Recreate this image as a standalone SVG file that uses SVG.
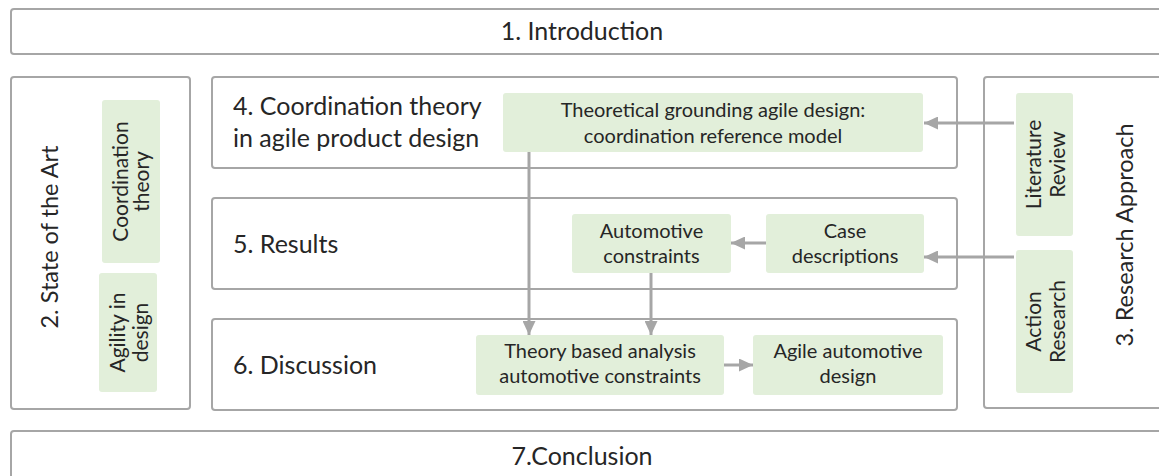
<svg xmlns="http://www.w3.org/2000/svg" width="1159" height="476" viewBox="0 0 1159 476">
  <style>
    .frame { fill: #ffffff; stroke: #a6a6a6; stroke-width: 2; }
    .item { fill: #e2efda; stroke: none; }
    .t { font-family: Lato, "Open Sans", "Liberation Sans", sans-serif; fill: #262626; }
    .big { font-size: 25px; }
    .side { font-size: 23.5px; }
    .small { font-size: 20px; }
    .vsmall { font-size: 21px; }
    .c { text-anchor: middle; }
    .link { fill: none; stroke: #a6a6a6; stroke-width: 3; }
  </style>
  <defs>
    <marker id="head" viewBox="0 0 14 13" refX="14" refY="6.5" markerWidth="14" markerHeight="13" markerUnits="userSpaceOnUse" orient="auto">
      <path d="M0,0 L14,6.5 L0,13 Z" fill="#a6a6a6"/>
    </marker>
  </defs>

  <rect width="1159" height="476" fill="#ffffff"/>

  <!-- chapter 1 -->
  <g id="introduction">
    <rect class="frame" x="11" y="9" width="1170" height="45" rx="3"/>
    <text class="t big c" x="582" y="40">1. Introduction</text>
  </g>

  <!-- chapter 2 -->
  <g id="state-of-the-art">
    <rect class="frame" x="11" y="77" width="179" height="332" rx="3"/>
    <text class="t side c" transform="translate(58,237) rotate(-90)">2. State of the Art</text>
  </g>
  <g id="coordination-theory">
    <rect class="item" x="102" y="100" width="58" height="163" rx="3"/>
    <text class="t vsmall c" transform="translate(0,181.5) rotate(-90)"><tspan x="0" y="128">Coordination</tspan><tspan x="0" y="149">theory</tspan></text>
  </g>
  <g id="agility-in-design">
    <rect class="item" x="99" y="273" width="58" height="119" rx="3"/>
    <text class="t vsmall c" transform="translate(0,332.5) rotate(-90)"><tspan x="0" y="125">Agility in</tspan><tspan x="0" y="148">design</tspan></text>
  </g>

  <!-- chapter 4 -->
  <g id="coordination-in-agile-design">
    <rect class="frame" x="212" y="77" width="745" height="91" rx="3"/>
    <text class="t big" x="233" y="115">4. Coordination theory</text>
    <text class="t big" x="233" y="147">in agile product design</text>
  </g>
  <g id="theoretical-grounding">
    <rect class="item" x="503" y="93" width="420" height="59" rx="3"/>
    <text class="t small c" x="713" y="117">Theoretical grounding agile design:</text>
    <text class="t small c" x="713" y="143">coordination reference model</text>
  </g>

  <!-- chapter 5 -->
  <g id="results">
    <rect class="frame" x="212" y="198" width="745" height="91" rx="3"/>
    <text class="t big" x="233" y="253">5. Results</text>
  </g>
  <g id="automotive-constraints">
    <rect class="item" x="572" y="214" width="159" height="59" rx="3"/>
    <text class="t small c" x="651.5" y="238">Automotive</text>
    <text class="t small c" x="651.5" y="263">constraints</text>
  </g>
  <g id="case-descriptions">
    <rect class="item" x="766" y="214" width="158" height="59" rx="3"/>
    <text class="t small c" x="845" y="238">Case</text>
    <text class="t small c" x="845" y="263">descriptions</text>
  </g>

  <!-- chapter 6 -->
  <g id="discussion">
    <rect class="frame" x="212" y="319" width="745" height="91" rx="3"/>
    <text class="t big" x="233" y="374">6. Discussion</text>
  </g>
  <g id="theory-based-analysis">
    <rect class="item" x="476" y="335" width="248" height="60" rx="3"/>
    <text class="t small c" x="600" y="358">Theory based analysis</text>
    <text class="t small c" x="600" y="383">automotive constraints</text>
  </g>
  <g id="agile-automotive-design">
    <rect class="item" x="753" y="335" width="190" height="60" rx="3"/>
    <text class="t small c" x="848" y="358">Agile automotive</text>
    <text class="t small c" x="848" y="383">design</text>
  </g>

  <!-- chapter 3 -->
  <g id="research-approach">
    <rect class="frame" x="984" y="77" width="200" height="331" rx="3"/>
    <text class="t side c" transform="translate(1133,235) rotate(-90)">3. Research Approach</text>
  </g>
  <g id="literature-review">
    <rect class="item" x="1016" y="93" width="57" height="143" rx="3"/>
    <text class="t vsmall c" transform="translate(0,164.5) rotate(-90)"><tspan x="0" y="1041">Literature</tspan><tspan x="0" y="1065">Review</tspan></text>
  </g>
  <g id="action-research">
    <rect class="item" x="1016" y="250" width="57" height="143" rx="3"/>
    <text class="t vsmall c" transform="translate(0,321.5) rotate(-90)"><tspan x="0" y="1041">Action</tspan><tspan x="0" y="1065">Research</tspan></text>
  </g>

  <!-- chapter 7 -->
  <g id="conclusion">
    <rect class="frame" x="11" y="431" width="1170" height="60" rx="3"/>
    <text class="t big c" x="582" y="465">7.Conclusion</text>
  </g>

  <!-- connectors -->
  <g id="connectors">
    <path class="link" d="M1014,123 H924" marker-end="url(#head)"/>
    <path class="link" d="M1014,257 H924" marker-end="url(#head)"/>
    <path class="link" d="M766,243 H731" marker-end="url(#head)"/>
    <path class="link" d="M529,152 V335" marker-end="url(#head)"/>
    <path class="link" d="M651,273 V335" marker-end="url(#head)"/>
    <path class="link" d="M724,365 H753" marker-end="url(#head)"/>
  </g>
</svg>
